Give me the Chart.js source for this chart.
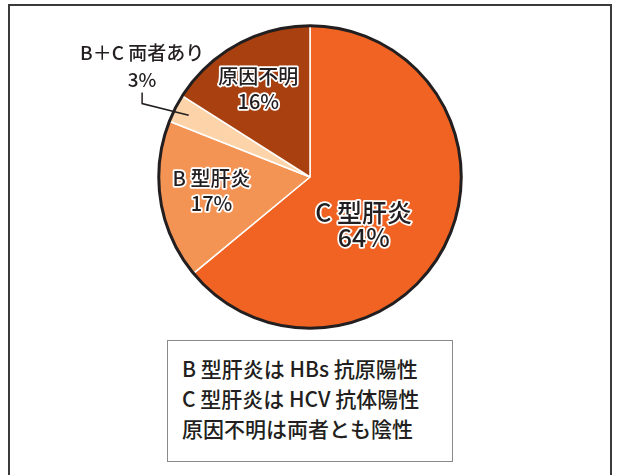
<!DOCTYPE html>
<html>
<head>
<meta charset="utf-8">
<script src="https://cdn.jsdelivr.net/npm/chart.js@4.4.1/dist/chart.umd.min.js"></script>
<style>
  html, body { margin: 0; padding: 0; background: #fff; }
  #wrap { position: relative; width: 619px; height: 475px; overflow: hidden; }
  #frame {
    position: absolute; left: 8px; top: 4px; width: 600px; height: 500px;
    border: 2px solid #3a3a3a; border-bottom: none;
  }
  #note {
    position: absolute; left: 167px; top: 340px; width: 286px; height: 122px;
    border: 1.5px solid #8a8a8a; background: #fff; box-sizing: border-box;
    font-family: "Noto Sans CJK JP", sans-serif; font-size: 21px; font-weight: 500; color: #231f20;
    padding: 0 0 0 14px;
  }
  #note div { height: 30px; line-height: 30px; }
  #note div:first-child { margin-top: 12px; }
  canvas { position: absolute; left: 0; top: 0; }
</style>
</head>
<body>
<div id="wrap">
  <div id="frame"></div>
  <canvas id="pie" width="619" height="475"></canvas>
  <div id="note"></div>
</div>
<script>
const categories = ['C 型肝炎', 'B 型肝炎', 'B＋C 両者あり', '原因不明'];
const shares = [64, 17, 3, 16];
const sliceColors = ['#f06322', '#f39455', '#fdd4a9', '#a8410f'];
const noteLines = ['B 型肝炎は HBs 抗原陽性', 'C 型肝炎は HCV 抗体陽性', '原因不明は両者とも陰性'];

// label placement, relative to pie centre in units of radius
const labelPos = [
  { dx: 0.355, dy: 0.32, size: 25, gap: 25, halo: true },
  { dx: -0.651, dy: 0.089, size: 20, gap: 25, halo: true },
  { dx: -1.11, dy: -0.73, size: 19, gap: 27, halo: false },
  { dx: -0.342, dy: -0.582, size: 20, gap: 25, halo: true }
];

document.getElementById('note').innerHTML = noteLines.map(t => '<div>' + t + '</div>').join('');

const pieDecor = {
  id: 'pieDecor',
  afterDatasetsDraw(chart) {
    const ctx = chart.ctx;
    const arcs = chart.getDatasetMeta(0).data;
    const cx = arcs[0].x, cy = arcs[0].y, r = arcs[0].outerRadius;

    // black outline
    ctx.save();
    ctx.beginPath();
    ctx.arc(cx, cy, r, 0, Math.PI * 2);
    ctx.lineWidth = 3;
    ctx.strokeStyle = '#231f20';
    ctx.stroke();

    // leader line for the small slice
    const small = arcs[2];
    const mid = (small.startAngle + small.endAngle) / 2;
    const p = labelPos[2];
    const lx = cx + p.dx * r;
    ctx.beginPath();
    ctx.moveTo(lx, cy + p.dy * r + 26);
    ctx.lineTo(lx, cy + p.dy * r + 37);
    ctx.lineTo(cx + Math.cos(mid) * r * 0.9, cy + Math.sin(mid) * r * 0.9);
    ctx.lineWidth = 1.5;
    ctx.stroke();

    // labels
    ctx.textAlign = 'center';
    ctx.textBaseline = 'middle';
    ctx.lineJoin = 'round';
    categories.forEach((name, i) => {
      const lp = labelPos[i];
      const x = cx + lp.dx * r, y = cy + lp.dy * r;
      const lines = [name, shares[i] + '%'];
      ctx.font = '500 ' + lp.size + 'px "Noto Sans CJK JP"';
      lines.forEach((t, k) => {
        const ty = y + (k - 0.5) * lp.gap;
        if (lp.halo) {
          ctx.lineWidth = 3.5;
          ctx.strokeStyle = '#ffffff';
          ctx.strokeText(t, x, ty);
        }
        ctx.fillStyle = '#231f20';
        ctx.fillText(t, x, ty);
      });
    });
    ctx.restore();
  }
};

new Chart(document.getElementById('pie').getContext('2d'), {
  type: 'pie',
  data: {
    labels: categories,
    datasets: [{
      data: shares,
      backgroundColor: sliceColors,
      borderColor: '#ffffff',
      borderWidth: 1.5
    }]
  },
  options: {
    responsive: false,
    animation: false,
    layout: { padding: { left: 158, right: 157, top: 25, bottom: 146 } },
    plugins: {
      legend: { display: false },
      tooltip: { enabled: false }
    }
  },
  plugins: [pieDecor]
});
</script>
</body>
</html>
